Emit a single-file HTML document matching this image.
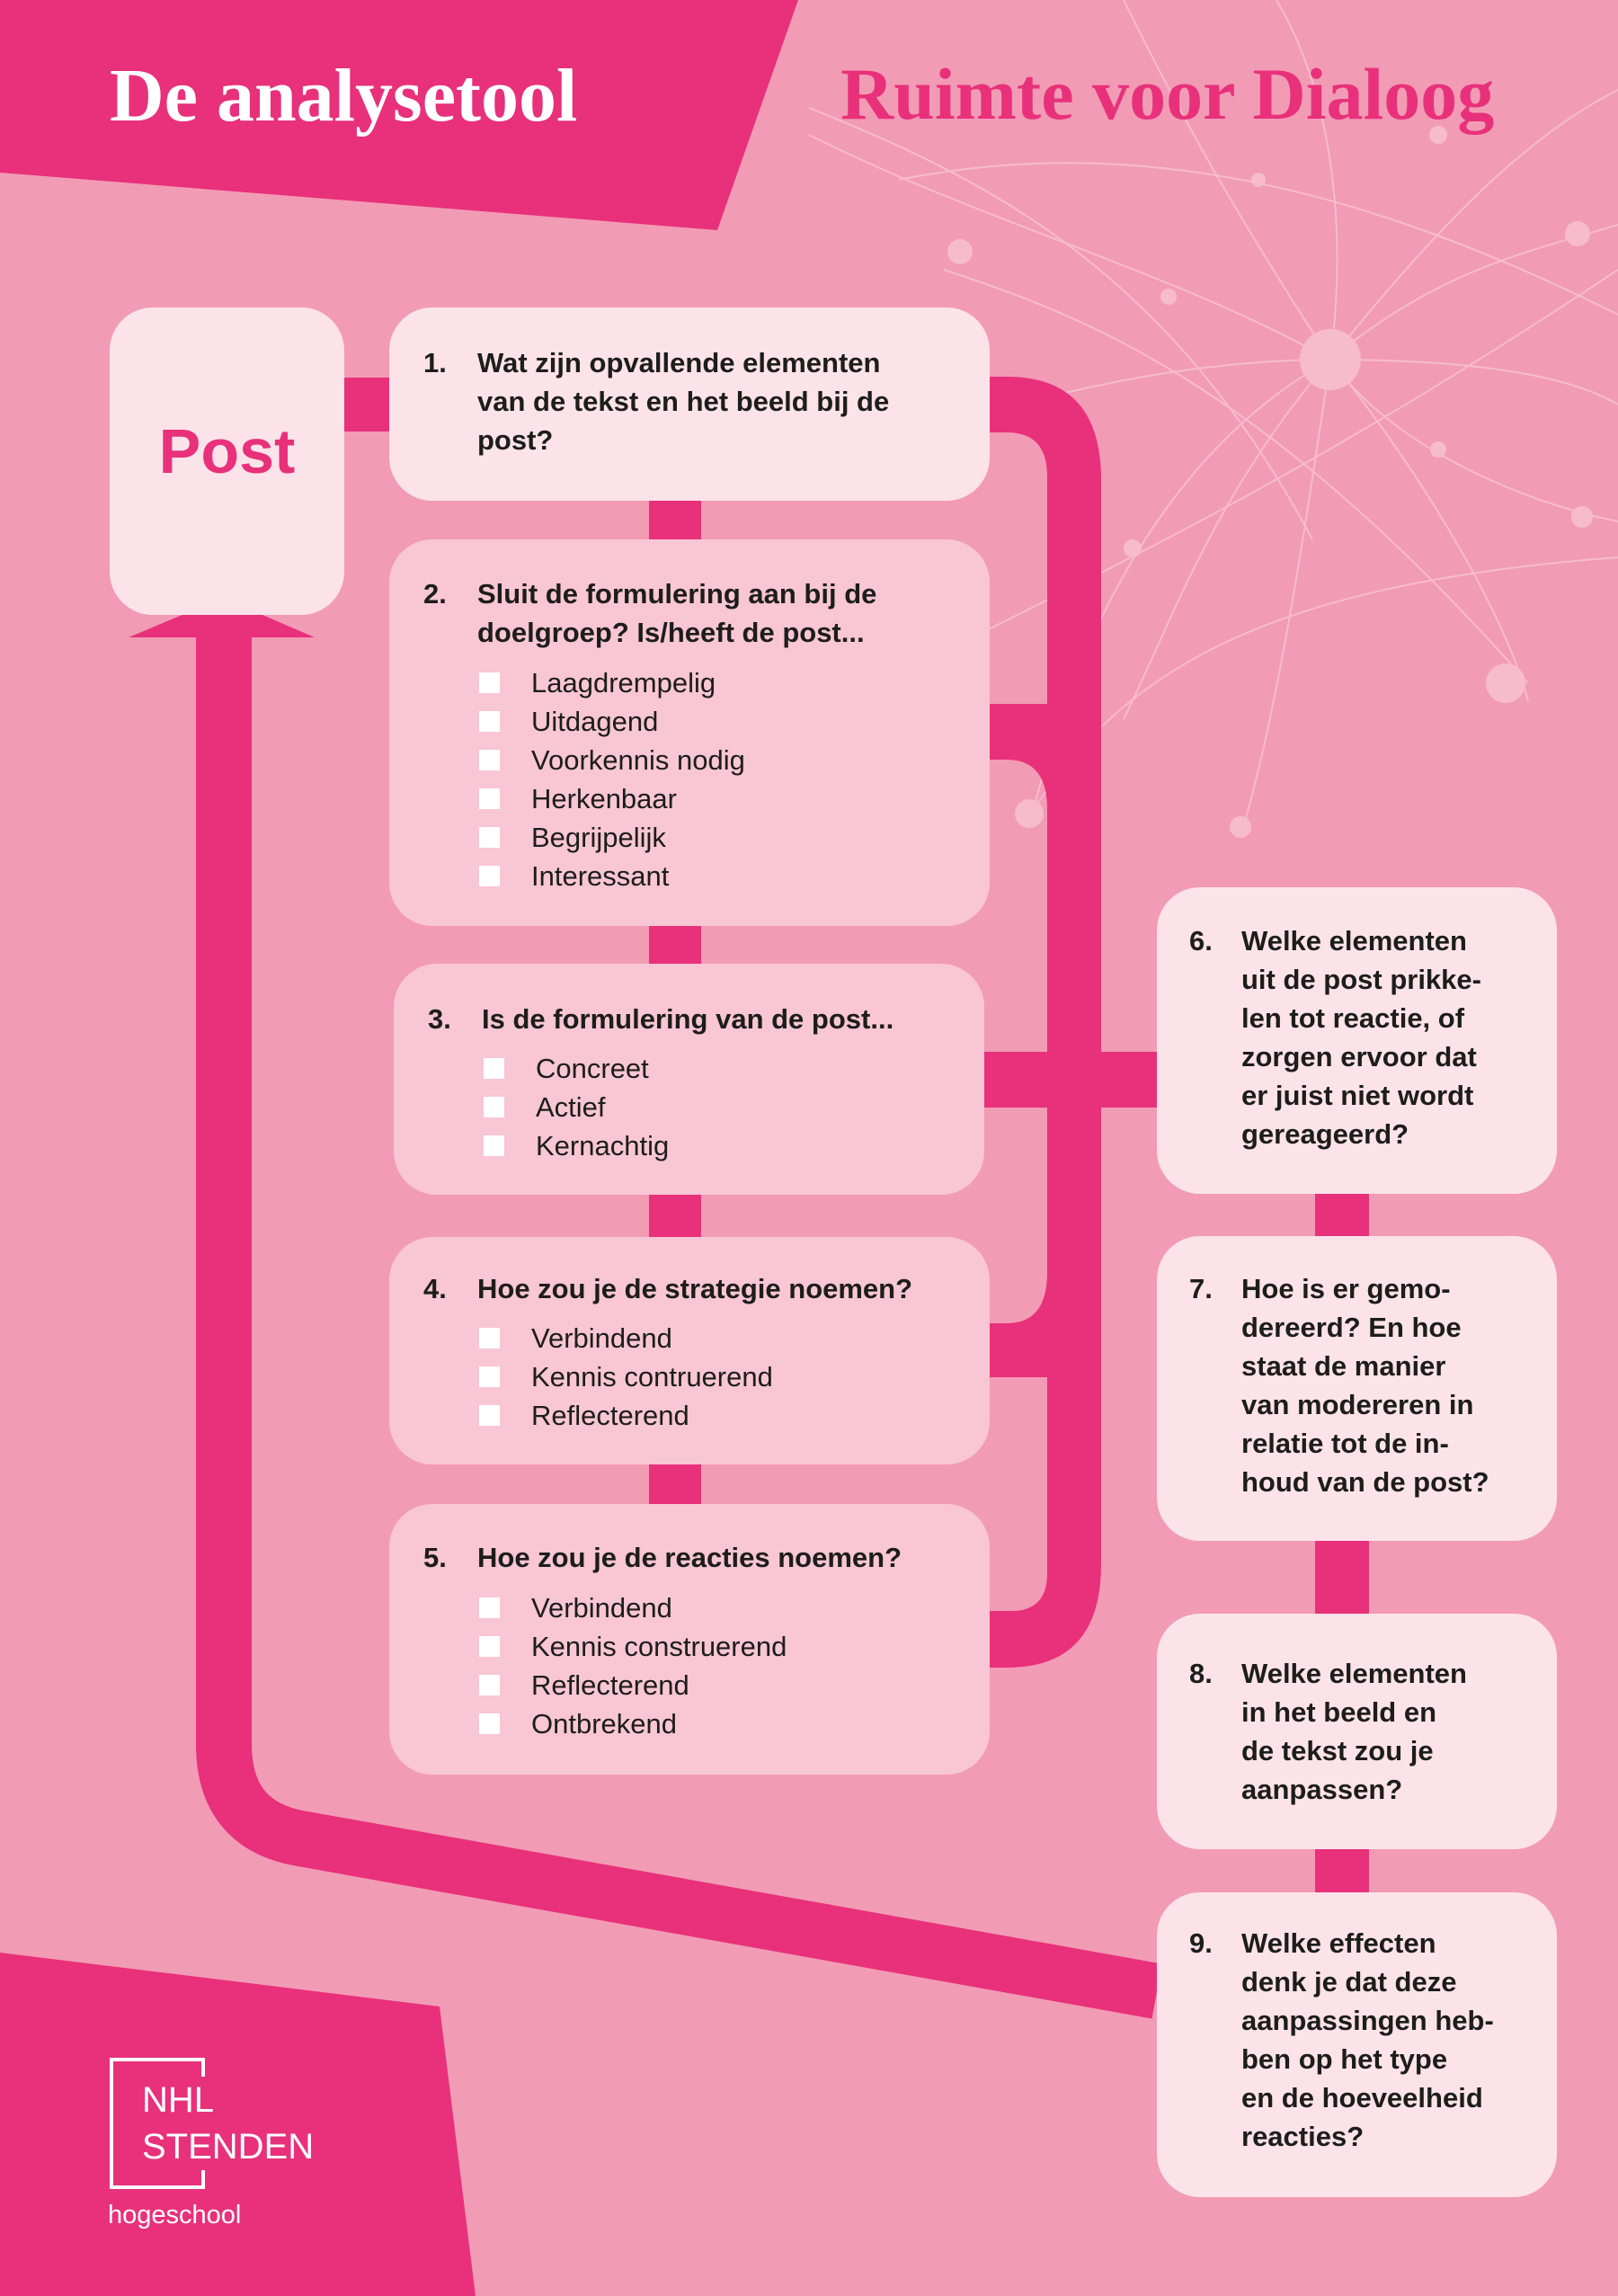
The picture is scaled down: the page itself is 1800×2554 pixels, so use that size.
<!DOCTYPE html>
<html><head><meta charset="utf-8"><style>
*{margin:0;padding:0;box-sizing:border-box}
body{width:1800px;height:2554px;position:relative;overflow:hidden;background:#f29bb5;font-family:"Liberation Sans",sans-serif}
.box{position:absolute;border-radius:48px}
.l{background:#fce3ea}.m{background:#f8c6d4}
.t{position:absolute;font-size:31px;line-height:43px;color:#1d1d1b;white-space:nowrap}
.b{font-weight:bold}
.i{position:relative;padding-left:58px}
.i:before{content:"";position:absolute;left:0;top:10px;width:23px;height:23px;background:#fff}
.bar{position:absolute;background:#e8317a}
</style></head><body>
<svg width="1800" height="2554" style="position:absolute;left:0;top:0">
 <g stroke="#f6bccd" stroke-width="2" fill="none">
  <path d="M1480 400 C1300 300 1100 250 900 150"/>
  <path d="M1480 400 C1350 200 1300 100 1250 0"/>
  <path d="M1480 400 C1600 250 1700 150 1800 100"/>
  <path d="M1480 400 C1650 400 1750 420 1800 450"/>
  <path d="M1480 400 C1600 550 1680 700 1700 780"/>
  <path d="M1480 400 C1450 600 1420 800 1380 930"/>
  <path d="M1480 400 C1300 500 1200 700 1150 900"/>
  <path d="M1480 400 C1300 400 1100 450 1000 500"/>
  <path d="M1480 400 C1500 250 1480 100 1420 0"/>
  <path d="M1480 400 C1600 300 1700 280 1800 250"/>
  <path d="M1480 400 C1550 500 1700 560 1800 580"/>
  <path d="M1480 400 C1350 550 1300 700 1250 800"/>
  <path d="M1050 300 C1200 350 1400 420 1700 760"/>
  <path d="M900 120 C1100 200 1300 300 1460 600"/>
  <path d="M1000 200 C1250 150 1500 200 1800 350"/>
  <path d="M1100 700 C1300 600 1500 500 1800 300"/>
  <path d="M1150 900 C1250 750 1400 650 1800 620"/>
 </g>
 <g fill="#f6bccd">
  <circle cx="1480" cy="400" r="34"/><circle cx="1675" cy="760" r="22"/><circle cx="1755" cy="260" r="14"/>
  <circle cx="1068" cy="280" r="14"/><circle cx="1380" cy="920" r="12"/><circle cx="1145" cy="905" r="16"/>
  <circle cx="1760" cy="575" r="12"/><circle cx="1600" cy="150" r="10"/><circle cx="1260" cy="610" r="10"/>
  <circle cx="1300" cy="330" r="9"/><circle cx="1600" cy="500" r="9"/><circle cx="1400" cy="200" r="8"/>
 </g>
 <polygon points="0,0 888,0 798,256 0,192" fill="#e8317a"/>
 <polygon points="0,2172 489,2232 529,2554 0,2554" fill="#e8317a"/>
 <path d="M249 700 L249 1940 Q249 2030 334 2045 L1287 2215" stroke="#e8317a" stroke-width="62" fill="none"/>
 <polygon points="143,709 248,665 350,709" fill="#e8317a"/>
 <path d="M1101 419 L1120 419 Q1225 419 1225 534 L1225 1740 Q1225 1855 1120 1855 L1101 1855 L1101 1792 L1125 1792 Q1165 1792 1165 1750 L1165 1532 L1101 1532 L1101 1472 L1120 1472 Q1165 1472 1165 1415 L1165 900 Q1165 845 1120 845 L1101 845 L1101 783 L1165 783 L1165 530 Q1165 481 1120 481 L1101 481 Z" fill="#e8317a"/>
 <rect x="1095" y="1170" width="195" height="62" fill="#e8317a"/>
</svg>
<div style="position:absolute;left:122px;top:58px;font-family:'Liberation Serif',serif;font-weight:bold;font-size:84px;color:#fff;white-space:nowrap">De analysetool</div>
<div style="position:absolute;left:935px;top:58px;font-family:'Liberation Serif',serif;font-weight:bold;font-size:82px;color:#e8317a;white-space:nowrap">Ruimte voor Dialoog</div>

<div class="bar" style="left:383px;top:420px;width:55px;height:60px"></div>
<div class="bar" style="left:722px;top:550px;width:58px;height:60px"></div>
<div class="bar" style="left:722px;top:1025px;width:58px;height:55px"></div>
<div class="bar" style="left:722px;top:1325px;width:58px;height:55px"></div>
<div class="bar" style="left:722px;top:1625px;width:58px;height:55px"></div>
<div class="bar" style="left:1463px;top:1325px;width:60px;height:55px"></div>
<div class="bar" style="left:1463px;top:1710px;width:60px;height:90px"></div>
<div class="bar" style="left:1463px;top:2052px;width:60px;height:58px"></div>

<div class="box l" style="left:122px;top:342px;width:261px;height:342px"></div>
<div style="position:absolute;left:122px;top:462px;width:261px;text-align:center;font-size:70px;font-weight:bold;color:#e8317a">Post</div>

<div class="box l" style="left:433px;top:342px;width:668px;height:215px"></div>
<div class="t b" style="left:471px;top:382px">1.</div>
<div class="t b" style="left:531px;top:382px">Wat zijn opvallende elementen<br>van de tekst en het beeld bij de<br>post?</div>

<div class="box m" style="left:433px;top:600px;width:668px;height:430px"></div>
<div class="t b" style="left:471px;top:639px">2.</div>
<div class="t b" style="left:531px;top:639px">Sluit de formulering aan bij de<br>doelgroep? Is/heeft de post...</div>
<div class="t" style="left:533px;top:738px"><div class="i">Laagdrempelig</div><div class="i">Uitdagend</div><div class="i">Voorkennis nodig</div><div class="i">Herkenbaar</div><div class="i">Begrijpelijk</div><div class="i">Interessant</div></div>

<div class="box m" style="left:438px;top:1072px;width:657px;height:257px"></div>
<div class="t b" style="left:476px;top:1112px">3.</div>
<div class="t b" style="left:536px;top:1112px">Is de formulering van de post...</div>
<div class="t" style="left:538px;top:1167px"><div class="i">Concreet</div><div class="i">Actief</div><div class="i">Kernachtig</div></div>

<div class="box m" style="left:433px;top:1376px;width:668px;height:253px"></div>
<div class="t b" style="left:471px;top:1412px">4.</div>
<div class="t b" style="left:531px;top:1412px">Hoe zou je de strategie noemen?</div>
<div class="t" style="left:533px;top:1467px"><div class="i">Verbindend</div><div class="i">Kennis contruerend</div><div class="i">Reflecterend</div></div>

<div class="box m" style="left:433px;top:1673px;width:668px;height:301px"></div>
<div class="t b" style="left:471px;top:1711px">5.</div>
<div class="t b" style="left:531px;top:1711px">Hoe zou je de reacties noemen?</div>
<div class="t" style="left:533px;top:1767px"><div class="i">Verbindend</div><div class="i">Kennis construerend</div><div class="i">Reflecterend</div><div class="i">Ontbrekend</div></div>

<div class="box l" style="left:1287px;top:987px;width:445px;height:341px"></div>
<div class="t b" style="left:1323px;top:1025px">6.</div>
<div class="t b" style="left:1381px;top:1025px">Welke elementen<br>uit de post prikke-<br>len tot reactie, of<br>zorgen ervoor dat<br>er juist niet wordt<br>gereageerd?</div>

<div class="box l" style="left:1287px;top:1375px;width:445px;height:339px"></div>
<div class="t b" style="left:1323px;top:1412px">7.</div>
<div class="t b" style="left:1381px;top:1412px">Hoe is er gemo-<br>dereerd? En hoe<br>staat de manier<br>van modereren in<br>relatie tot de in-<br>houd van de post?</div>

<div class="box l" style="left:1287px;top:1795px;width:445px;height:262px"></div>
<div class="t b" style="left:1323px;top:1840px">8.</div>
<div class="t b" style="left:1381px;top:1840px">Welke elementen<br>in het beeld en<br>de tekst zou je<br>aanpassen?</div>

<div class="box l" style="left:1287px;top:2105px;width:445px;height:339px"></div>
<div class="t b" style="left:1323px;top:2140px">9.</div>
<div class="t b" style="left:1381px;top:2140px">Welke effecten<br>denk je dat deze<br>aanpassingen heb-<br>ben op het type<br>en de hoeveelheid<br>reacties?</div>

<div style="position:absolute;left:122px;top:2289px;width:106px;height:146px;border:4px solid #fff"></div>
<div style="position:absolute;left:154px;top:2310px;background:#e8317a;color:#fff;font-size:40px;line-height:52px;padding:0 4px">NHL<br>STENDEN</div>
<div style="position:absolute;left:120px;top:2448px;color:#fff;font-size:29px">hogeschool</div>
</body></html>
